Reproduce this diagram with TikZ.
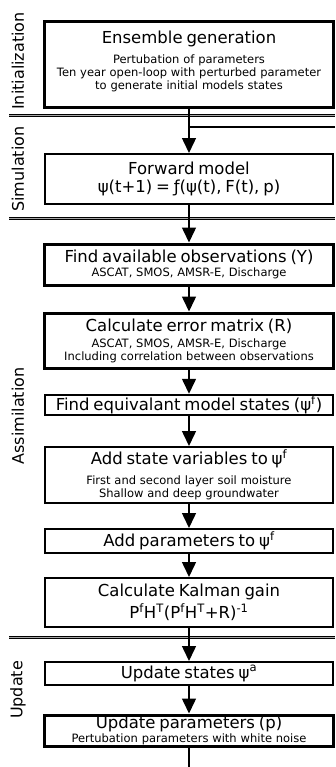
\documentclass[tikz,border=0pt]{standalone}
\usepackage{fontspec}
\setmainfont{DejaVu Sans}
\usetikzlibrary{arrows.meta}

\newcommand{\heading}[1]{{\fontsize{16.5bp}{19bp}\selectfont #1}}

\tikzset{
    stepbox/.style={draw, line width=2bp, minimum width=288bp, text width=286bp,
        align=center, inner sep=1bp, font=\fontsize{11.5bp}{13bp}\selectfont},
    heavybox/.style={stepbox, line width=3bp},
    flow/.style={line width=1.5bp, -{Triangle[width=14bp,length=15bp]}},
    phase/.style={rotate=90, font=\fontsize{16bp}{19bp}\selectfont},
    sepline/.style={line width=1bp, double=gray!70, double distance=0.9bp},
}

\begin{document}
\begin{tikzpicture}[x=1bp, y=-1bp]
    \useasboundingbox (0,0) rectangle (335,767);

    % Phase separators
    \draw[sepline] (9,115.5) -- (335,115.5);
    \draw[sepline] (9,218.5) -- (335,218.5);
    \draw[sepline] (9,637.5) -- (335,637.5);

    % Phase labels
    \node[phase] (init) at (18,61) {Initialization};
    \node[phase] (sim) at (18,169) {Simulation};
    \node[phase] (assim) at (18,416) {Assimilation};
    \node[phase] (upd) at (18,690) {Update};

    % Initialization
    \node[heavybox, minimum height=85bp] (ens) at (189,64.5)
        {\heading{Ensemble generation}\\[7bp]
         Pertubation of parameters\\
         Ten year open-loop with perturbed parameter\\
         to generate initial models states\\[-3.5bp]\mbox{}};

    % Simulation
    \node[stepbox, minimum height=50bp] (fwd) at (189,179)
        {\heading{Forward model}\\[5bp]
         \heading{ψ(t+1) = ƒ(ψ(t), F(t), p)}};

    % Assimilation
    \node[heavybox, minimum height=41bp] (obs) at (189,264.5)
        {\heading{Find available observations (Y)}\\[1.5bp]
         ASCAT, SMOS, AMSR-E, Discharge};
    \node[heavybox, minimum height=55bp] (err) at (189,340.5)
        {\heading{Calculate error matrix (R)}\\[3bp]
         ASCAT, SMOS, AMSR-E, Discharge\\
         Including correlation between observations};
    \node[stepbox, minimum height=16bp] (equ) at (189,405)
        {\heading{Find equivalant model states (ψ\textsuperscript{f})}};
    \node[stepbox, minimum height=56bp] (addst) at (189,475)
        {\heading{Add state variables to ψ\textsuperscript{f}}\\[7bp]
         First and second layer soil moisture\\
         Shallow and deep groundwater};
    \node[stepbox, minimum height=24bp] (addpar) at (189,541)
        {\heading{Add parameters to ψ\textsuperscript{f}}};
    \node[stepbox, minimum height=49bp] (kal) at (189,602.5)
        {\heading{Calculate Kalman gain}\\[3bp]
         \heading{P\textsuperscript{f}H\textsuperscript{T}(P\textsuperscript{f}H\textsuperscript{T}+R)\textsuperscript{-1}}};

    % Update
    \node[stepbox, minimum height=23bp] (upst) at (189,673.5)
        {\heading{Update states ψ\textsuperscript{a}}};
    \node[heavybox, minimum height=31bp] (uppar) at (189,730.5)
        {\heading{Update parameters (p)}\\[0.5bp]
         Pertubation parameters with white noise};

    % Flow
    \coordinate (loopin) at (335,127);
    \coordinate (loopout) at (189,767);
    \draw[flow] (ens) -- (fwd);
    \draw[line width=1.5bp] (loopin) -- (loopin -| fwd.north);
    \draw[flow] (fwd) -- (obs);
    \draw[flow] (obs) -- (err);
    \draw[flow] (err) -- (equ);
    \draw[flow] (equ) -- (addst);
    \draw[flow] (addst) -- (addpar);
    \draw[flow] (addpar) -- (kal);
    \draw[flow] (kal) -- (upst);
    \draw[flow] (upst) -- (uppar);
    \draw[line width=1.5bp] (uppar) -- (loopout);
\end{tikzpicture}
\end{document}
